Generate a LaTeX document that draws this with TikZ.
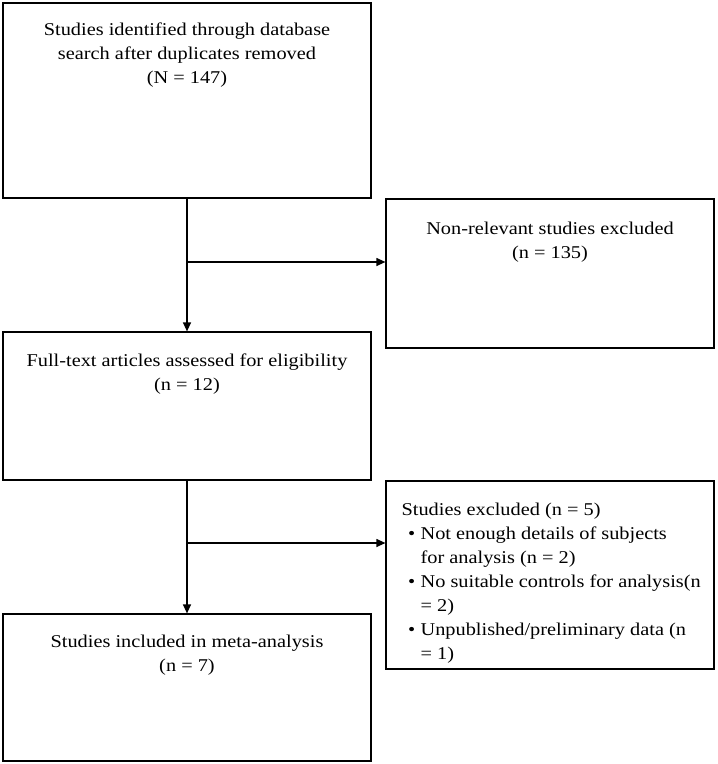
\documentclass[tikz,border=0pt]{standalone}
\usepackage{fontspec}
\setmainfont{Liberation Serif}[FakeStretch=1.13]
\usetikzlibrary{positioning,arrows.meta}

\newcommand{\bulitem}{\makebox[19pt][l]{\hspace{6.5pt}\textbullet}}
\newcommand{\bulcont}{\hspace{19pt}}

\begin{document}
\begin{tikzpicture}[x=1pt,y=-1pt,
    box/.style={draw, line width=1.2pt, inner sep=0pt},
    txt/.style={inner sep=0pt, align=center, font=\fontsize{18}{24}\selectfont},
    arr/.style={line width=1.2pt, -{Triangle[length=9pt,width=8pt]}}]
    \useasboundingbox (0,0) rectangle (718,764);
    % boxes
    \node[box, minimum width=368pt, minimum height=195pt] (search)   at (187,100.5) {};
    \node[box, minimum width=328pt, minimum height=149pt] (nonrel)   at (550,273.5) {};
    \node[box, minimum width=368pt, minimum height=148pt] (fulltext) at (187,406) {};
    \node[box, minimum width=328pt, minimum height=188pt] (excl)     at (550,575) {};
    \node[box, minimum width=368pt, minimum height=147pt] (incl)     at (187,687.5) {};
    % texts
    \node[txt, below=20.5pt of search.north] (searchtxt)
        {Studies identified through database\\search after duplicates removed\\(N = 147)};
    \node[txt, below=23.5pt of nonrel.north] (nonreltxt)
        {Non-relevant studies excluded\\(n = 135)};
    \node[txt, below=22pt of fulltext.north] (fulltexttxt)
        {Full-text articles assessed for eligibility\\(n = 12)};
    \node[txt, align=left, below right=22.5pt and 16pt of excl.north west] (excltxt)
        {Studies excluded (n = 5)\\
         \bulitem Not enough details of subjects\\
         \bulcont for analysis (n = 2)\\
         \bulitem No suitable controls for analysis(n\\
         \bulcont = 2)\\
         \bulitem Unpublished/preliminary data (n\\
         \bulcont = 1)};
    \node[txt, below=21.5pt of incl.north] (incltxt)
        {Studies included in meta-analysis\\(n = 7)};
    % connectors
    \coordinate (split1) at (187,262);
    \coordinate (split2) at (187,543);
    \draw[arr] (search.south) -- (fulltext.north);
    \draw[arr] (split1) -- (split1 -| nonrel.west);
    \draw[arr] (fulltext.south) -- (incl.north);
    \draw[arr] (split2) -- (split2 -| excl.west);
\end{tikzpicture}
\end{document}
